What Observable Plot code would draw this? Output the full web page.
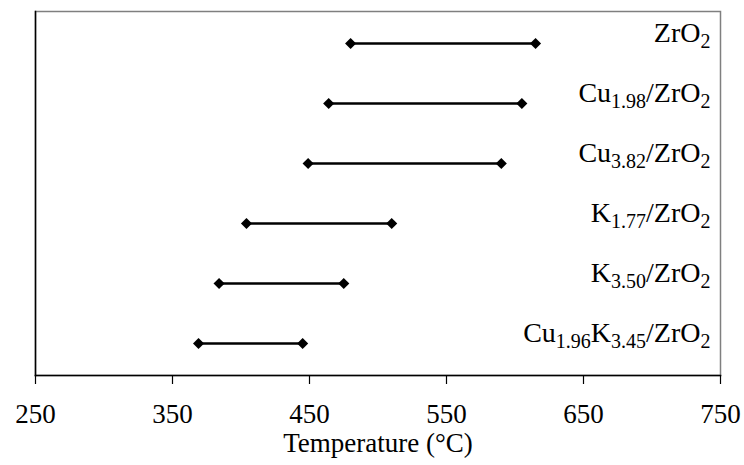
<!DOCTYPE html>
<html>
<head>
<meta charset="utf-8">
<script src="https://cdn.jsdelivr.net/npm/d3@7"></script>
<script src="https://cdn.jsdelivr.net/npm/@observablehq/plot@0.6"></script>
<style>
  html, body { margin: 0; padding: 0; background: white; }
</style>
</head>
<body>
<div id="chart"></div>
<script>
// Sample names (text in braces is rendered as subscript)
const samples = ["ZrO{2}", "Cu{1.98}/ZrO{2}", "Cu{3.82}/ZrO{2}", "K{1.77}/ZrO{2}", "K{3.50}/ZrO{2}", "Cu{1.96}K{3.45}/ZrO{2}"];
// Reduction temperature range (°C)
const tStart = [480, 464, 449, 404, 384, 369];
const tEnd = [615, 605, 590, 510, 475, 445];
const xTicks = [250, 350, 450, 550, 650, 750];

const data = samples.map((s, i) => ({s, a: tStart[i], b: tEnd[i]}));

const chart = Plot.plot({
  width: 744,
  height: 465,
  marginLeft: 35,
  marginRight: 24,
  marginTop: 11,
  marginBottom: 90,
  style: {fontFamily: "'Liberation Serif', 'Times New Roman', serif", background: "white", color: "black"},
  x: {domain: [250, 750], label: null},
  y: {domain: samples, type: "band", padding: 0, axis: null},
  marks: [
    Plot.frame({stroke: "#7f7f7f", strokeWidth: 1.5}),
    Plot.frame({anchor: "left", stroke: "black", strokeWidth: 1.5}),
    Plot.frame({anchor: "bottom", stroke: "black", strokeWidth: 1.5}),
    Plot.axisX({ticks: xTicks, tickSize: 9, tickPadding: 19, fontSize: 27, label: null, strokeWidth: 1.2}),
    Plot.link(data, {x1: "a", x2: "b", y1: "s", y2: "s", stroke: "black", strokeWidth: 2.5}),
    Plot.dot(data, {x: "a", y: "s", symbol: "diamond2", r: 5, fill: "black", stroke: "none"}),
    Plot.dot(data, {x: "b", y: "s", symbol: "diamond2", r: 5, fill: "black", stroke: "none"}),
    Plot.text(data, {y: "s", text: "s", frameAnchor: "right", lineAnchor: "middle", textAnchor: "end", dx: -10, dy: -10, fontSize: 28, fill: "black"}),
    Plot.text(["Temperature (°C)"], {frameAnchor: "bottom", lineAnchor: "middle", dy: 68, fontSize: 27, fill: "black"})
  ]
});

// Render braces as subscripts
d3.select(chart).selectAll("text").each(function() {
  const t = this.textContent;
  if (!t.includes("{")) return;
  const el = d3.select(this);
  el.text(null);
  const parts = t.split(/(\{[^}]*\})/).filter(p => p.length);
  let sub = false;
  parts.forEach(p => {
    if (p.startsWith("{")) {
      el.append("tspan").attr("font-size", 20).attr("dy", 6).text(p.slice(1, -1));
      sub = true;
    } else {
      el.append("tspan").attr("dy", sub ? -6 : 0).text(p);
      sub = false;
    }
  });
});

document.getElementById("chart").appendChild(chart);
</script>
</body>
</html>
